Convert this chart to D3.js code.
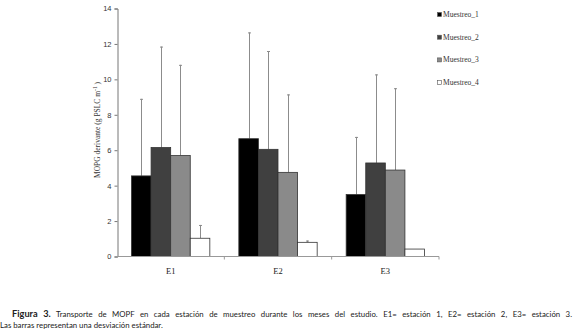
<!DOCTYPE html>
<html>
<head>
<meta charset="utf-8">
<script src="https://cdn.jsdelivr.net/npm/d3@7"></script>
<style>
body { margin: 0; background: #fff; }
svg { display: block; }
</style>
</head>
<body>
<div id="chart"></div>
<script>
const stations = ["E1", "E2", "E3"];
const series = ["Muestreo_1", "Muestreo_2", "Muestreo_3", "Muestreo_4"];
// means per station for each muestreo
const means = [
    [4.55, 6.65, 3.5],
    [6.15, 6.05, 5.28],
    [5.7, 4.75, 4.88],
    [1.03, 0.8, 0.42]
];
// top of the error bar (mean + sd)
const errTops = [
    [8.9, 12.65, 6.75],
    [11.85, 11.6, 10.28],
    [10.82, 9.15, 9.5],
    [1.78, 0.9, 0.42]
];
const yTicks = [0, 2, 4, 6, 8, 10, 12, 14];
const fills = ["#000000", "#404040", "#8a8a8a", "#ffffff"];

const width = 575, height = 336;
const svg = d3.select("#chart").append("svg")
    .attr("width", width).attr("height", height);

const x = d3.scaleBand().domain(stations).range([117, 439]).paddingInner(0).paddingOuter(0);
const inner = d3.scaleBand().domain(series).range([14.5, x.bandwidth() - 14.5]);
const y = d3.scaleLinear().domain([0, 14]).range([256.5, 8.5]);

const data = [];
series.forEach((s, i) => {
    stations.forEach((st, j) => {
        data.push({ s: s, st: st, i: i, v: means[i][j], e: errTops[i][j] });
    });
});

// error bars (upper only)
const eb = svg.append("g").attr("stroke", "#8c8c8c").attr("stroke-width", 1);
data.filter(d => d.e > d.v).forEach(d => {
    const cx = Math.round(x(d.st) + inner(d.s) + inner.bandwidth() / 2) + 0.5;
    eb.append("line").attr("x1", cx).attr("x2", cx).attr("y1", y(d.v)).attr("y2", y(d.e));
    eb.append("line").attr("x1", cx - 1.5).attr("x2", cx + 1.5).attr("y1", y(d.e) + 0.5).attr("y2", y(d.e) + 0.5);
});

// bars
svg.append("g").selectAll("rect")
    .data(data)
    .enter().append("rect")
    .attr("x", d => x(d.st) + inner(d.s))
    .attr("y", d => y(d.v))
    .attr("width", inner.bandwidth())
    .attr("height", d => y(0) - y(d.v))
    .attr("fill", d => fills[d.i])
    .attr("stroke", "#333")
    .attr("stroke-width", 0.8);

// y axis
const yAxis = svg.append("g")
    .attr("transform", "translate(117.5,0)")
    .call(d3.axisLeft(y).tickValues(yTicks).tickSize(3).tickFormat(d3.format("d")));
yAxis.select(".domain").attr("stroke", "#777");
yAxis.selectAll(".tick line").attr("stroke", "#777");
yAxis.selectAll("text")
    .attr("font-family", "Liberation Sans, Arial, sans-serif")
    .attr("font-size", 7.5).attr("fill", "#333").attr("x", -6);

// x axis
const xAxis = svg.append("g")
    .attr("transform", "translate(0,256.5)");
xAxis.append("line").attr("x1", 117).attr("x2", 439).attr("stroke", "#999");
xAxis.selectAll(".tk").data([x("E2"), x("E3"), 439]).enter().append("line")
    .attr("x1", d => d).attr("x2", d => d).attr("y1", 0).attr("y2", 3)
    .attr("stroke", "#999");
xAxis.selectAll("text").data(stations).enter().append("text")
    .attr("x", d => x(d) + x.bandwidth() / 2)
    .attr("y", 17)
    .attr("text-anchor", "middle")
    .attr("font-family", "Liberation Serif, Times New Roman, serif")
    .attr("font-size", 8.5).attr("fill", "#222")
    .text(d => d);

// y title
const yt = svg.append("text")
    .attr("transform", "translate(100,130) rotate(-90)")
    .attr("text-anchor", "middle")
    .attr("font-family", "Liberation Serif, Times New Roman, serif")
    .attr("font-size", 7.5).attr("fill", "#333");
yt.append("tspan").text("MOPG derivante (g PSLC m");
yt.append("tspan").attr("dy", -3).attr("font-size", 5.5).text("-1");
yt.append("tspan").attr("dy", 3).text(" )");

// legend
const leg = svg.append("g").attr("transform", "translate(437,0)");
series.forEach((s, i) => {
    const ly = 16 + i * 22.7;
    leg.append("rect").attr("x", 0.5).attr("y", ly - 3.5).attr("width", 4).attr("height", 4)
        .attr("fill", fills[i]).attr("stroke", "#555").attr("stroke-width", 0.6);
    leg.append("text").attr("x", 6).attr("y", ly + 1)
        .attr("font-family", "Liberation Serif, Times New Roman, serif")
        .attr("font-size", 7.5).attr("fill", "#333").text(s);
});

// caption (first line justified)
const cap = svg.append("g")
    .attr("font-family", "Lato, Open Sans, sans-serif")
    .attr("font-size", 7.8).attr("fill", "#222");
const c1 = cap.append("text").attr("x", 12).attr("y", 317);
c1.append("tspan").attr("font-weight", "bold").attr("font-size", 9.2).text("Figura 3.");
c1.append("tspan").text(" Transporte de MOPF en cada estación de muestreo durante los meses del estudio. E1= estación 1, E2= estación 2, E3= estación 3.");
const natural = c1.node().getComputedTextLength();
const gaps = c1.text().split(" ").length - 1;
c1.attr("word-spacing", Math.max(0, (560 - natural) / gaps));
cap.append("text").attr("x", 0).attr("y", 328).text("Las barras representan una desviación estándar.");
</script>
</body>
</html>
